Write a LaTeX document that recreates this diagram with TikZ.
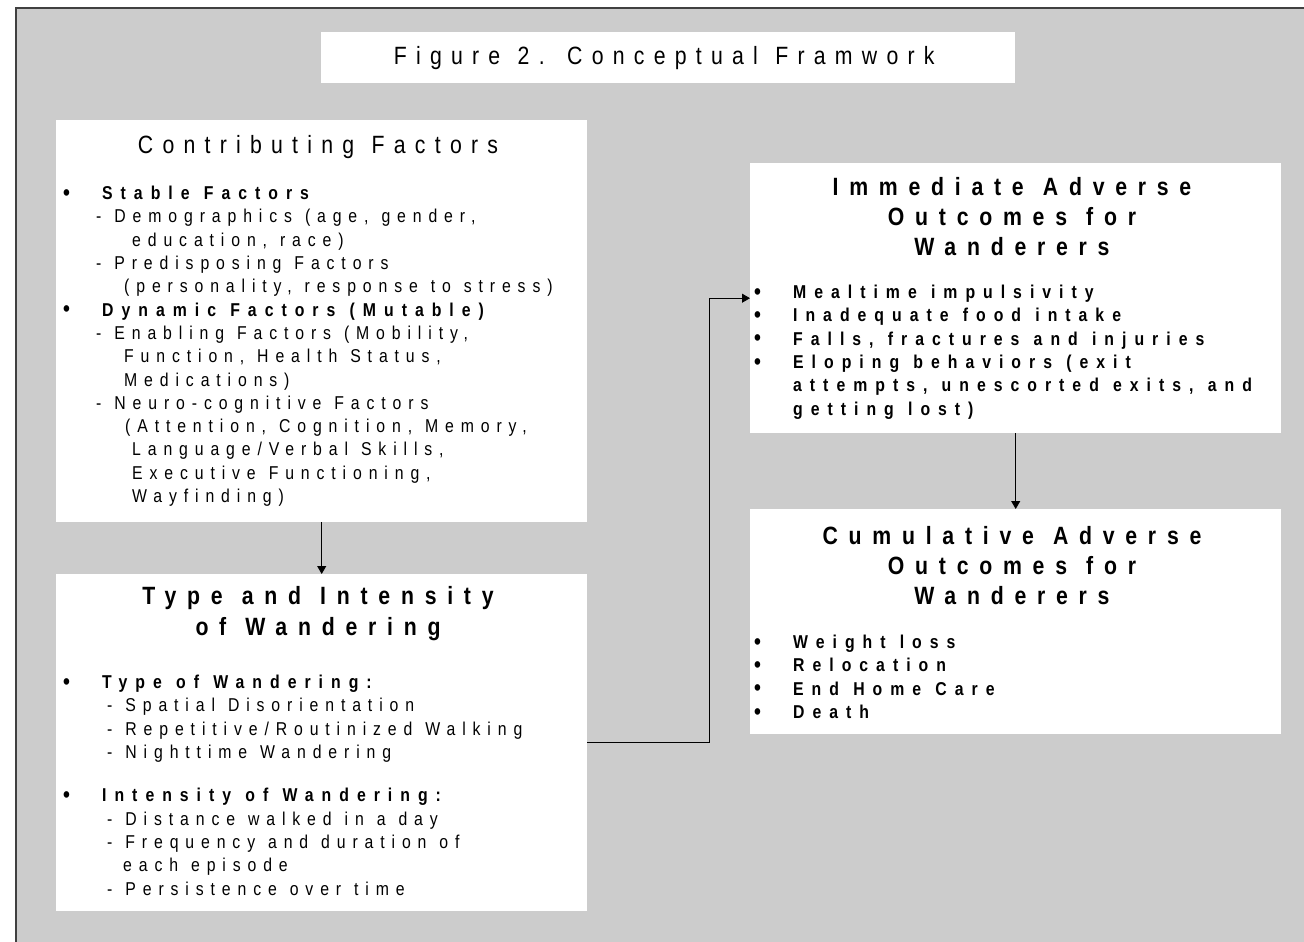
\documentclass[tikz,border=0pt]{standalone}
\usepackage{fontspec}
\setmainfont{Liberation Sans}[FakeStretch=0.85,LetterSpace=37,WordSpace=1.15,Ligatures=NoCommon,
  BoldFeatures={LetterSpace=43}]
\usetikzlibrary{arrows.meta}
\definecolor{panelgray}{HTML}{CCCCCC}
\definecolor{edgegray}{HTML}{404040}
\newcommand{\bul}{\makebox[41pt][l]{\hspace{2pt}\raisebox{-0.5pt}{\fontsize{23}{0}\selectfont\textbf{•}}}}
\tikzset{
  panel/.style={fill=white, draw=none, inner sep=0pt, anchor=north west},
  flow/.style={-{Triangle[length=8pt,width=9pt]}, line width=0.9pt},
  body/.style={inner sep=0pt, anchor=north west, align=left,
    font=\fontsize{18.6}{23.3}\selectfont},
  boldbody/.style={body, font=\fontsize{18.6}{23.3}\selectfont\bfseries},
  heading/.style={inner sep=0pt, align=center, font=\fontsize{25}{30}\selectfont},
}
\begin{document}
\begin{tikzpicture}[x=1pt, y=-1pt]
\useasboundingbox (0,0) rectangle (1304,942);
%background
\fill[white] (0,0) rectangle (1304,942);
\fill[panelgray] (15,7) rectangle (1304,942);
\draw[edgegray, line width=2.5pt] (16.2,942) -- (16.2,8) -- (1304,8);
%title
\node[panel, minimum width=694pt, minimum height=51pt] (title) at (321,32) {};
\node[heading] (titletext) at ([xshift=-4pt]title.center) {Figure 2. Conceptual Framwork};
%boxes
\node[panel, minimum width=531pt, minimum height=402pt] (contrib) at (56,120) {};
\node[panel, minimum width=531pt, minimum height=337pt] (typebox) at (56,574) {};
\node[panel, minimum width=531pt, minimum height=270pt] (immediate) at (750,163) {};
\node[panel, minimum width=531pt, minimum height=225pt] (cumulative) at (750,509) {};
%contributing factors
\node[heading] (contribhead) at (318,147) {Contributing Factors};
\node[body] (contribtext) at (61,186) {%
\bul\textbf{Stable Factors}\\
\hspace*{35pt}- Demographics (age, gender,\\
\hspace*{71pt}education, race)\\
\hspace*{35pt}- Predisposing Factors\\
\hspace*{63pt}(personality, response to stress)\\
\bul\textbf{Dynamic Factors (Mutable)}\\
\hspace*{35pt}- Enabling Factors (Mobility,\\
\hspace*{63pt}Function, Health Status,\\
\hspace*{63pt}Medications)\\
\hspace*{35pt}- Neuro-cognitive Factors\\
\hspace*{64pt}(Attention, Cognition, Memory,\\
\hspace*{71pt}Language/Verbal Skills,\\
\hspace*{71pt}Executive Functioning,\\
\hspace*{71pt}Wayfinding)};
%type and intensity
\node[heading, font=\fontsize{25}{31}\selectfont\bfseries] (typehead) at (318,614) {Type and Intensity\\of Wandering};
\node[body] (typetext) at (61,675) {%
\bul\textbf{Type of Wandering:}\\
\hspace*{46pt}- Spatial Disorientation\\
\hspace*{46pt}- Repetitive/Routinized Walking\\
\hspace*{46pt}- Nighttime Wandering\\[20pt]
\bul\textbf{Intensity of Wandering:}\\
\hspace*{46pt}- Distance walked in a day\\
\hspace*{46pt}- Frequency and duration of\\
\hspace*{62pt}each episode\\
\hspace*{46pt}- Persistence over time};
%immediate outcomes
\node[heading, font=\fontsize{25}{30}\selectfont\bfseries] (immhead) at (1012,217) {Immediate Adverse\\Outcomes for\\Wanderers};
\node[boldbody] (immtext) at (752,285) {%
\bul Mealtime impulsivity\\
\bul Inadequate food intake\\
\bul Falls, fractures and injuries\\
\bul Eloping behaviors (exit\\
\hspace*{41pt}attempts, unescorted exits, and\\
\hspace*{41pt}getting lost)};
%cumulative outcomes
\node[heading, font=\fontsize{25}{30}\selectfont\bfseries] (cumhead) at (1012,566) {Cumulative Adverse\\Outcomes for\\Wanderers};
\node[boldbody] (cumtext) at (752,635) {%
\bul Weight loss\\
\bul Relocation\\
\bul End Home Care\\
\bul Death};
%connectors
\draw[flow] (contrib) -- (typebox);
\draw[flow] (typebox.east) -- ++(122,0) |- (immediate.west);
\draw[flow] (immediate) -- (cumulative);
\end{tikzpicture}
\end{document}
